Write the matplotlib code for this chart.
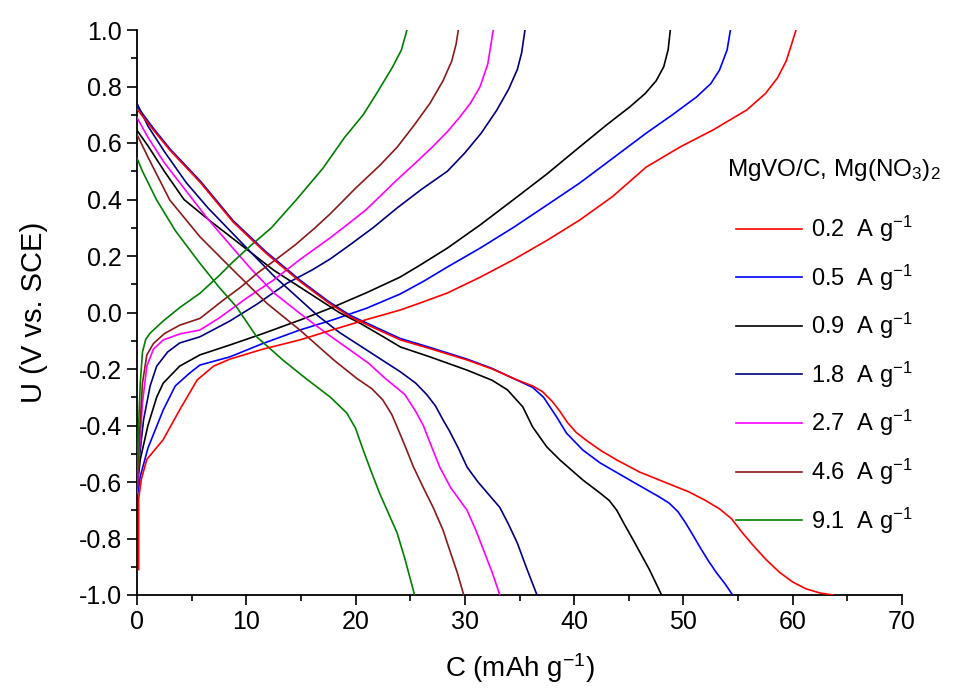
import matplotlib
matplotlib.use('Agg')
import matplotlib.pyplot as plt
from matplotlib.ticker import MultipleLocator, FormatStrFormatter

plt.rcParams['font.family'] = ['Liberation Sans', 'DejaVu Sans']
plt.rcParams['mathtext.fontset'] = 'custom'
plt.rcParams['mathtext.rm'] = 'Liberation Sans'
plt.rcParams['mathtext.it'] = 'Liberation Sans:italic'
plt.rcParams['axes.unicode_minus'] = False

# ---------------- data ----------------
rates = ['0.2', '0.5', '0.9', '1.8', '2.7', '4.6', '9.1']
colors = ['#ff0000', '#0000ff', '#000000', '#000080', '#ff00ff', '#8b1a1a', '#008000']
legend_title = 'MgVO/C, Mg(NO$_3$)$_2$'

# discharge branches (capacity, potential)
dis_c_02 = [0, 1.5, 3, 5.8, 8.8, 11.8, 14.9, 17.5, 19.5, 22, 24.1, 27, 30.2, 32.5, 34.8, 36.2, 37.1, 38.0, 38.7, 39.4, 40.2, 41.2, 42.5, 43.9, 46, 48.5, 50.5, 52, 53.3, 54.4, 55.4, 56.5, 57.6, 58.8, 60.0, 61.2, 62.5, 63.7]
dis_u_02 = [0.72, 0.646, 0.575, 0.46, 0.32, 0.21, 0.11, 0.035, -0.015, -0.06, -0.097, -0.13, -0.168, -0.20, -0.239, -0.26, -0.28, -0.315, -0.35, -0.39, -0.425, -0.455, -0.49, -0.522, -0.565, -0.604, -0.635, -0.665, -0.695, -0.73, -0.78, -0.83, -0.876, -0.92, -0.954, -0.978, -0.993, -1.0]

dis_c_05 = [0, 1.5, 3, 5.8, 8.8, 11.8, 14.9, 17.5, 19.5, 22, 24.1, 27, 30.2, 32.5, 34.8, 36.2, 37.2, 38.4, 39.3, 40.8, 42.4, 45.4, 47.8, 48.7, 49.5, 50.2, 50.9, 51.5, 52.3, 53.0, 53.8, 54.5]
dis_u_05 = [0.73, 0.652, 0.58, 0.465, 0.325, 0.215, 0.115, 0.04, -0.01, -0.055, -0.092, -0.126, -0.165, -0.198, -0.24, -0.265, -0.30, -0.37, -0.427, -0.487, -0.533, -0.60, -0.653, -0.675, -0.705, -0.745, -0.79, -0.83, -0.88, -0.92, -0.96, -1.0]

dis_c_09 = [0, 1, 2.5, 4.3, 6.5, 8.5, 10.5, 12.5, 14.5, 16.5, 18.5, 20.5, 22.5, 24.1, 26.8, 30.2, 32.5, 33.9, 35.3, 36.2, 37.5, 38.7, 40.8, 42.4, 43.2, 43.9, 44.6, 45.4, 46.9, 48.0]
dis_u_09 = [0.645, 0.59, 0.50, 0.40, 0.33, 0.27, 0.21, 0.15, 0.10, 0.05, 0.0, -0.04, -0.085, -0.122, -0.157, -0.204, -0.24, -0.274, -0.334, -0.405, -0.476, -0.522, -0.593, -0.64, -0.665, -0.70, -0.75, -0.805, -0.911, -1.0]

dis_c_18 = [0, 1, 2.5, 4.5, 6.5, 8.5, 10.5, 12.5, 14.5, 16.5, 18.5, 20.5, 22.5, 24.1, 25.5, 26.5, 27.3, 28.0, 28.6, 29.4, 30.2, 31.2, 32.2, 33.2, 34.0, 34.8, 35.7, 36.6]
dis_u_18 = [0.74, 0.66, 0.57, 0.46, 0.37, 0.29, 0.21, 0.13, 0.06, -0.01, -0.07, -0.12, -0.17, -0.21, -0.25, -0.29, -0.33, -0.38, -0.42, -0.48, -0.547, -0.60, -0.645, -0.69, -0.75, -0.816, -0.91, -1.0]

dis_c_27 = [0, 1, 2.5, 4.5, 6.5, 8.5, 10.3, 12.5, 14.9, 17.2, 19.5, 21.2, 22.7, 24.5, 25.5, 26.2, 26.8, 27.7, 28.7, 30.2, 31.0, 31.7, 32.5, 33.2]
dis_u_27 = [0.69, 0.62, 0.53, 0.43, 0.33, 0.24, 0.16, 0.07, -0.003, -0.07, -0.133, -0.18, -0.233, -0.29, -0.35, -0.40, -0.46, -0.547, -0.62, -0.70, -0.77, -0.84, -0.92, -1.0]

dis_c_46 = [0, 1, 3.0, 5.76, 8.8, 11.9, 14.9, 18.0, 20.1, 21.5, 22.5, 23.3, 23.8, 24.5, 25.3, 26.2, 27.1, 28.0, 28.6, 29.3, 29.9]
dis_u_46 = [0.63, 0.55, 0.398, 0.268, 0.15, 0.032, -0.062, -0.168, -0.233, -0.27, -0.31, -0.36, -0.405, -0.47, -0.547, -0.62, -0.69, -0.77, -0.84, -0.92, -1.0]

dis_c_91 = [0, 0.5, 1.8, 3.5, 5.76, 7.5, 9.1, 10.95, 13.4, 15.5, 17.7, 19.2, 20.0, 20.7, 21.4, 22.2, 23.0, 23.8, 24.5, 25.4]
dis_u_91 = [0.546, 0.50, 0.398, 0.29, 0.174, 0.09, 0.02, -0.086, -0.17, -0.235, -0.30, -0.356, -0.41, -0.487, -0.56, -0.64, -0.71, -0.78, -0.87, -1.0]

# charge branches (capacity, potential)
chg_c_02 = [0.15, 0.15, 0.4, 0.9, 2.4, 3.9, 5.5, 7, 8.5, 11.5, 14.9, 18, 21, 24.1, 26, 28.4, 31.4, 34.4, 37.5, 40.5, 43.5, 46.6, 49.7, 52.7, 55.8, 57.5, 58.6, 59.4, 59.9, 60.3]
chg_u_02 = [-0.91, -0.66, -0.59, -0.52, -0.45, -0.345, -0.239, -0.19, -0.165, -0.13, -0.097, -0.06, -0.025, 0.009, 0.035, 0.069, 0.125, 0.186, 0.255, 0.327, 0.41, 0.515, 0.586, 0.646, 0.717, 0.775, 0.83, 0.89, 0.95, 1.0]

chg_c_05 = [0, 0.3, 1, 2.4, 3.5, 4.8, 5.76, 8.5, 11.5, 14.9, 18, 21, 24.06, 26.2, 28.4, 31.4, 34.4, 37.5, 40.5, 43.5, 46.6, 49, 51.2, 52.5, 53.3, 54.0, 54.3]
chg_u_05 = [-0.66, -0.58, -0.48, -0.345, -0.26, -0.215, -0.186, -0.157, -0.11, -0.062, -0.025, 0.015, 0.065, 0.11, 0.161, 0.228, 0.30, 0.38, 0.458, 0.545, 0.635, 0.70, 0.763, 0.81, 0.858, 0.93, 1.0]

chg_c_09 = [0, 0.3, 1, 1.8, 2.4, 3.9, 5.76, 8.5, 11.5, 14.9, 18, 21, 24.06, 26, 28.4, 31.4, 34.4, 37.5, 40.5, 43, 45.1, 46.5, 47.5, 48.2, 48.6, 48.8]
chg_u_09 = [-0.62, -0.52, -0.40, -0.30, -0.25, -0.19, -0.15, -0.115, -0.075, -0.027, 0.02, 0.07, 0.125, 0.17, 0.228, 0.31, 0.398, 0.49, 0.586, 0.665, 0.728, 0.775, 0.82, 0.87, 0.93, 1.0]

chg_c_18 = [0, 0.2, 0.6, 1.2, 1.8, 2.8, 3.9, 5.76, 8.5, 11, 13.7, 16, 17.7, 19.5, 21.6, 23.8, 26, 28.4, 30, 31.5, 32.9, 34, 34.8, 35.2, 35.5]
chg_u_18 = [-0.64, -0.52, -0.38, -0.26, -0.19, -0.14, -0.108, -0.086, -0.03, 0.03, 0.103, 0.15, 0.19, 0.24, 0.30, 0.37, 0.435, 0.50, 0.565, 0.635, 0.715, 0.79, 0.86, 0.92, 1.0]

chg_c_27 = [0, 0.2, 0.5, 0.9, 1.5, 2.4, 4, 5.76, 7.5, 10, 12.5, 15, 17.7, 19.2, 21, 22.2, 23.8, 25.5, 27, 28.4, 29.5, 30.5, 31.4, 32.1, 32.6]
chg_u_27 = [-0.64, -0.50, -0.32, -0.19, -0.13, -0.097, -0.075, -0.062, -0.02, 0.05, 0.115, 0.19, 0.265, 0.31, 0.365, 0.41, 0.47, 0.53, 0.585, 0.64, 0.69, 0.74, 0.80, 0.88, 1.0]

chg_c_46 = [0, 0.2, 0.5, 0.9, 1.5, 2.5, 3.9, 5.76, 7.9, 9.5, 11.0, 12.8, 14.5, 16.3, 17.7, 20, 22.2, 23.8, 25.3, 26.8, 28.0, 28.8, 29.2, 29.4]
chg_u_46 = [-0.62, -0.45, -0.25, -0.15, -0.11, -0.075, -0.045, -0.021, 0.044, 0.09, 0.139, 0.19, 0.24, 0.30, 0.35, 0.44, 0.52, 0.585, 0.66, 0.74, 0.82, 0.89, 0.95, 1.0]

chg_c_91 = [0, 0.1, 0.3, 0.5, 0.8, 1.2, 2.4, 4, 5.76, 7.5, 8.8, 10.5, 12.3, 14.6, 17, 19, 20.7, 22, 23.4, 24.2, 24.7]
chg_u_91 = [-0.62, -0.45, -0.25, -0.14, -0.095, -0.073, -0.03, 0.02, 0.068, 0.13, 0.18, 0.24, 0.30, 0.40, 0.51, 0.62, 0.70, 0.78, 0.87, 0.93, 1.0]

discharge = [(dis_c_02, dis_u_02), (dis_c_05, dis_u_05), (dis_c_09, dis_u_09), (dis_c_18, dis_u_18),
             (dis_c_27, dis_u_27), (dis_c_46, dis_u_46), (dis_c_91, dis_u_91)]
charge = [(chg_c_02, chg_u_02), (chg_c_05, chg_u_05), (chg_c_09, chg_u_09), (chg_c_18, chg_u_18),
          (chg_c_27, chg_u_27), (chg_c_46, chg_u_46), (chg_c_91, chg_u_91)]

# ---------------- figure ----------------
fig = plt.figure(figsize=(9.6, 6.9), dpi=100)
ax = fig.add_axes([137/960, 1 - 595/690, (902 - 137)/960, (595 - 30)/690])

for i, (rate, col) in enumerate(zip(rates, colors)):
    z = 3 if i == 0 else 2
    dc, du = discharge[i]
    cc, cu = charge[i]
    ax.plot(dc, du, color=col, lw=1.2, zorder=z, solid_joinstyle='round',
            label=rate + '  A g$^{-1}$')
    ax.plot(cc, cu, color=col, lw=1.2, zorder=z, solid_joinstyle='round')

ax.set_xlim(0, 70)
ax.set_ylim(-1.0, 1.0)
ax.xaxis.set_major_locator(MultipleLocator(10))
ax.xaxis.set_minor_locator(MultipleLocator(5))
ax.yaxis.set_major_locator(MultipleLocator(0.2))
ax.yaxis.set_minor_locator(MultipleLocator(0.1))
ax.yaxis.set_major_formatter(FormatStrFormatter('%.1f'))

for s in ['top', 'right']:
    ax.spines[s].set_visible(False)
for s in ['left', 'bottom']:
    ax.spines[s].set_linewidth(1.3)
    ax.spines[s].set_zorder(1)

ax.tick_params(which='major', direction='out', length=7, width=1.2, labelsize=18, pad=4)
ax.tick_params(which='minor', direction='out', length=4, width=1.2)

ax.set_xlabel('C (mAh g$^{-1}$)', fontsize=20, labelpad=12)
ax.set_ylabel('U (V vs. SCE)', fontsize=21, labelpad=22)

leg = ax.legend(loc='upper left', bbox_to_anchor=(724/960, 1 - 202/690),
                bbox_transform=fig.transFigure, frameon=False, fontsize=17,
                handlelength=2.8, handletextpad=0.4, labelspacing=0.78,
                borderpad=0)
fig.text(727/960, 1 - 170/690, legend_title, fontsize=17.5, ha='left', va='center')

fig.savefig('out.png', dpi=100)
